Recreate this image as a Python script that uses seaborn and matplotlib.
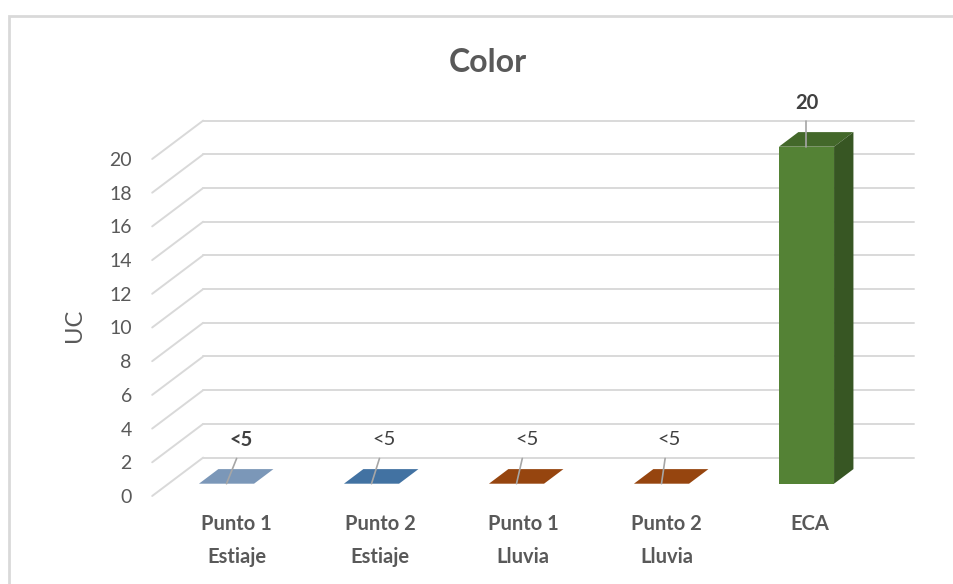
import numpy as np
import matplotlib.pyplot as plt
import seaborn as sns
from matplotlib.patches import Polygon, Rectangle
from matplotlib.colors import to_rgb

# datos del grafico
categorias = ["Punto 1\nEstiaje", "Punto 2\nEstiaje", "Punto 1\nLluvia", "Punto 2\nLluvia", "ECA"]
valores = [0, 0, 0, 0, 20]
etiquetas = ["<5", "<5", "<5", "<5", "20"]
etiqueta_negrita = [True, False, False, False, True]
colores = ["#7b97b8", "#4272a2", "#96450f", "#96450f", "#548235"]
y_ticks = [0, 2, 4, 6, 8, 10, 12, 14, 16, 18, 20]

sns.set_style("white")
plt.rcParams["font.family"] = ["Lato", "DejaVu Sans"]

W, H = 954, 584
fig = plt.figure(figsize=(W / 100, H / 100), dpi=100)

# plano de las caras frontales de las barras (en pixeles de la imagen)
px_x0, px_x1 = 154, 879          # x = -0.5 .. 4.5
px_y0, px_yt = 483.7, 146.7      # y = 0 .. 20
ppu = (px_y0 - px_yt) / 20
y_min = -0.9
bottom_px = px_y0 - y_min * ppu
ax = fig.add_axes([px_x0 / W, 1 - bottom_px / H, (px_x1 - px_x0) / W, (bottom_px - px_yt) / H])

# profundidad 3D (unidades de datos)
Dx, Dy = 51 / 145, 38.4 / ppu
f1, f2 = 0.32, 0.70
x_pared = -0.4
gris = "#d9d9d9"

sns.barplot(x=categorias, y=valores, hue=categorias, palette=colores, legend=False,
            width=0.38, saturation=1, linewidth=0, ax=ax, zorder=3)
ax.set_xlim(-0.5, 4.5)
ax.set_ylim(y_min, 20)

# lineas de cuadricula (pared del fondo + diagonales del lado izquierdo)
for v in y_ticks:
    xb0 = x_pared + (1 - f1) * Dx
    yb = v + (1 - f1) * Dy
    ax.plot([xb0, 4.5 + (1 - f1) * Dx], [yb, yb], color=gris, lw=1.4, zorder=0.5, clip_on=False)
    ax.plot([x_pared - f1 * Dx, xb0], [v - f1 * Dy, yb], color=gris, lw=1.4, zorder=0.5, clip_on=False)

def oscurecer(c, f):
    return tuple(np.array(to_rgb(c)) * f)

ddx, ddy = (f2 - f1) * Dx, (f2 - f1) * Dy
for i, p in enumerate(ax.patches):
    x0, w, h = p.get_x(), p.get_width(), p.get_height()
    x1 = x0 + w
    c = colores[i]
    top = [(x0, h), (x1, h), (x1 + ddx, h + ddy), (x0 + ddx, h + ddy)]
    ax.add_patch(Polygon(top, closed=True, facecolor=oscurecer(c, 0.8) if h > 0 else c,
                         edgecolor="none", zorder=3, clip_on=False))
    if h > 0:
        lado = [(x1, 0), (x1, h), (x1 + ddx, h + ddy), (x1 + ddx, ddy)]
        ax.add_patch(Polygon(lado, closed=True, facecolor=oscurecer(c, 0.66),
                             edgecolor="none", zorder=3, clip_on=False))

# etiquetas de datos con linea guia
for i, (v, txt, neg) in enumerate(zip(valores, etiquetas, etiqueta_negrita)):
    lx = i + (0.1 - 0.015 * i if v == 0 else 0.0)
    ly = v + 2.6
    ax.text(lx, ly, txt, ha="center", va="center", fontsize=14.5,
            fontweight="bold" if neg else "normal", color="#404040", zorder=5, clip_on=False)
    ax.plot([lx - (0.03 if v == 0 else 0), i], [v + 1.5, v], color="#a6a6a6", lw=1.2,
            zorder=4, clip_on=False)

# ejes
ax.set_yticks(np.array(y_ticks) - f1 * Dy, [str(t) for t in y_ticks])
ax.set_xticks(np.arange(len(categorias)) + 0.07 - 0.012 * np.arange(len(categorias)), categorias)
ax.tick_params(axis="y", length=0, pad=16, labelsize=14, labelcolor="#595959")
ax.tick_params(axis="x", length=0, pad=11, labelsize=14.5, labelcolor="#595959")
for lab in ax.get_xticklabels():
    lab.set_fontweight("bold")
    lab.set_linespacing(1.8)
ax.set_xlabel("")
ax.set_ylabel("UC", fontsize=17, color="#595959")
ax.yaxis.set_label_coords((85 - px_x0) / (px_x1 - px_x0), (bottom_px - 325) / (bottom_px - px_yt))
sns.despine(ax=ax, left=True, bottom=True)

fig.text(488 / W, 1 - 62 / H, "Color", ha="center", va="center", fontsize=23,
         fontweight="bold", color="#595959")

# borde del area del grafico
fig.add_artist(Rectangle((9 / W, -0.2), 1.2, 1.2 - 16 / H, transform=fig.transFigure,
                         fill=False, edgecolor=gris, lw=2))

fig.savefig("out.png", dpi=100)
